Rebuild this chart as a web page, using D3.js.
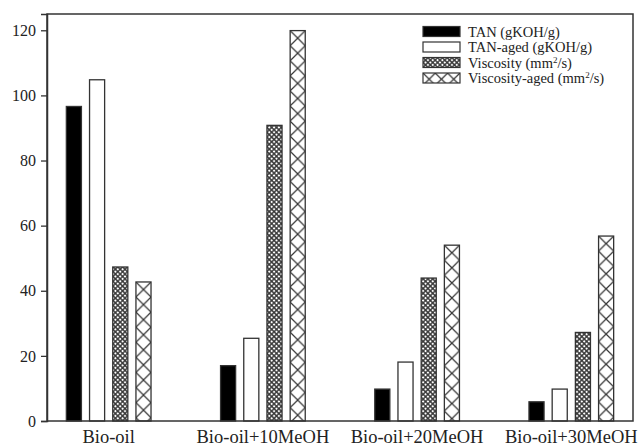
<!DOCTYPE html>
<html><head><meta charset="utf-8">
<script src="https://cdn.jsdelivr.net/npm/d3@7"></script>
<style>html,body{margin:0;padding:0;background:#fff;}svg{display:block;}</style>
</head><body>
<svg id="c" width="640" height="448"></svg>
<script>
const categories = ["Bio-oil", "Bio-oil+10MeOH", "Bio-oil+20MeOH", "Bio-oil+30MeOH"];
const seriesNames = ["TAN (gKOH/g)", "TAN-aged (gKOH/g)", "Viscosity (mm²/s)", "Viscosity-aged (mm²/s)"];
const tan = [96.6, 17.0, 9.8, 5.9];
const tanAged = [104.8, 25.4, 18.1, 9.8];
const viscosity = [47.3, 90.8, 43.9, 27.2];
const viscosityAged = [42.7, 119.9, 54.0, 56.8];
const yTicks = [0, 20, 40, 60, 80, 100, 120];

const seriesValues = [tan, tanAged, viscosity, viscosityAged];
const svg = d3.select("#c");
const L = 47, R = 633, T = 14, B = 421;
const font = "'Liberation Serif','Times New Roman',serif";
const ink = "#222";

const x = d3.scalePoint().domain(categories).range([L, R]).padding(0.4);
const xi = d3.scaleBand().domain(d3.range(4)).range([-46.4, 46.4]).paddingInner(0.35).paddingOuter(0.175);
const y = d3.scaleLinear().domain([0, 125]).range([B, T]);
const bw = xi.bandwidth();

const defs = svg.append("defs");
const dots = defs.append("pattern").attr("id", "dots").attr("patternUnits", "userSpaceOnUse")
  .attr("width", 3.4).attr("height", 3.4).attr("patternTransform", "rotate(45)");
dots.append("rect").attr("width", 3.4).attr("height", 3.4).attr("fill", "#3a3a3a");
dots.append("circle").attr("cx", 1.7).attr("cy", 1.7).attr("r", 1.1).attr("fill", "#fff");

function xPattern(id, px, py, w) {
  const p = defs.append("pattern").attr("id", id).attr("patternUnits", "userSpaceOnUse")
    .attr("x", px).attr("y", py).attr("width", w).attr("height", w);
  p.append("rect").attr("width", w).attr("height", w).attr("fill", "#fff");
  p.append("path").attr("d", `M0,0L${w},${w}M${w},0L0,${w}`).attr("stroke", "#333").attr("stroke-width", 1.2);
}

const fills = ["#000", "#fff", "url(#dots)", null];

// bars
const data = [];
categories.forEach((c, ci) => seriesValues.forEach((vals, si) => data.push({c, ci, si, v: vals[ci]})));
data.forEach(d => {
  d.x = x(d.c) + xi(d.si);
  d.y = y(d.v);
  if (d.si === 3) { xPattern("xp" + d.ci, d.x, d.y, bw); d.fill = `url(#xp${d.ci})`; }
  else d.fill = fills[d.si];
});
svg.append("g").selectAll("rect").data(data).join("rect")
  .attr("x", d => d.x).attr("y", d => d.y)
  .attr("width", bw).attr("height", d => y(0) - d.y)
  .attr("fill", d => d.fill).attr("stroke", "#333").attr("stroke-width", 1.3);

// frame
svg.append("rect").attr("x", L).attr("y", T).attr("width", R - L).attr("height", B - T)
  .attr("fill", "none").attr("stroke", "#333").attr("stroke-width", 1.5);

// y axis
const ya = svg.append("g").attr("transform", `translate(${L},0)`)
  .call(d3.axisLeft(y).tickValues(yTicks).tickSize(6).tickPadding(5));
ya.select(".domain").attr("stroke", "#333").attr("stroke-width", 1.5);
ya.selectAll(".tick line").attr("stroke", "#333").attr("stroke-width", 1.3);
ya.selectAll("text").attr("font-family", font).attr("font-size", 16).attr("fill", ink);

// x labels
svg.append("g").selectAll("text").data(categories).join("text")
  .attr("x", d => x(d)).attr("y", 443).attr("text-anchor", "middle")
  .attr("font-family", font).attr("font-size", 18.5).attr("fill", ink).text(d => d);

// legend
const lg = svg.append("g");
const rowY = d3.scalePoint().domain(d3.range(4)).range([31.5, 78]);
seriesNames.forEach((name, i) => {
  const cy = rowY(i);
  let f = fills[i];
  if (i === 3) { xPattern("xpl", 423, cy - 5, 12.3); f = "url(#xpl)"; }
  lg.append("rect").attr("x", 423).attr("y", cy - 5).attr("width", 37).attr("height", 10)
    .attr("fill", f).attr("stroke", "#333").attr("stroke-width", 1.2);
  const t = lg.append("text").attr("x", 468).attr("y", cy + 5)
    .attr("font-family", font).attr("font-size", 14.5).attr("fill", ink);
  if (i >= 2) {
    const base = i === 2 ? "Viscosity (mm" : "Viscosity-aged (mm";
    t.append("tspan").text(base);
    t.append("tspan").attr("dy", -5).attr("font-size", 9).text("2");
    t.append("tspan").attr("dy", 5).text("/s)");
  } else t.text(name);
});
</script>
</body></html>
